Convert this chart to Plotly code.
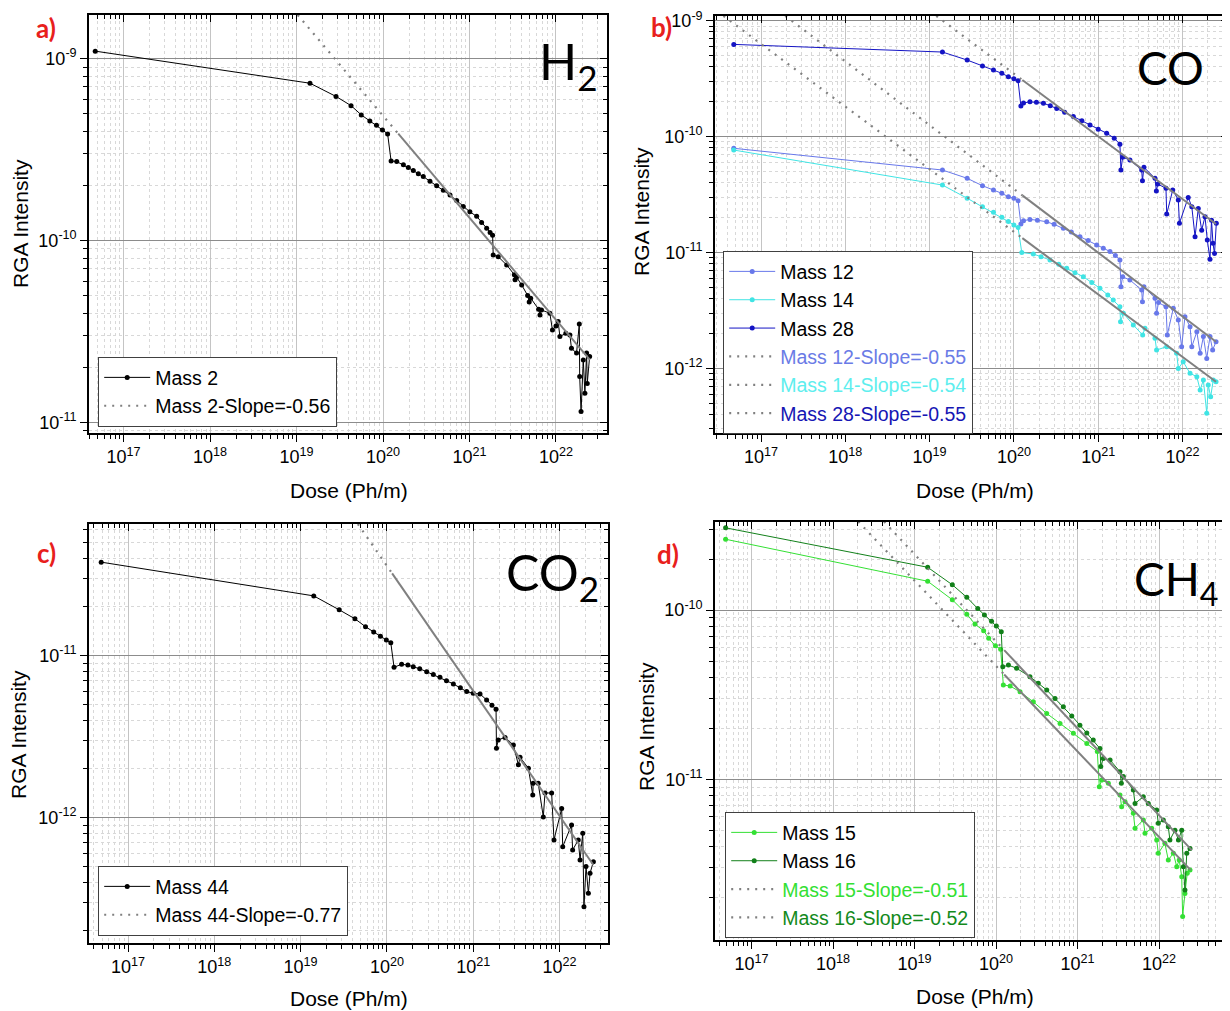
import plotly.graph_objects as go

# page body margin (8px) is compensated: figure drawn at 1222x1003, coords shifted by 8px
W, H = 1230, 1011
OX, OY = 8, 8
FW, FH = W - OX, H - OY

# ---------------- data ----------------
# Panel a) H2 : Mass 2
h2_dose = [4.7e16, 1.43e19, 2.86e19, 4.27e19, 5.6e19, 7.04e19, 8.4e19, 9.85e19, 1.13e20,
           1.24e20, 1.44e20, 1.72e20, 1.96e20, 2.24e20, 2.56e20, 2.92e20, 3.49e20, 4.17e20,
           4.98e20, 5.95e20, 7.11e20, 8.48e20, 1.01e21, 1.21e21, 1.38e21, 1.58e21, 1.73e21,
           1.85e21, 1.88e21, 2.15e21, 2.69e21, 3.3e21, 3.36e21, 3.5e21, 4.01e21, 4.7e21,
           4.9e21, 5.1e21, 6.3e21, 6.53e21, 6.8e21, 8.5e21, 9.1e21, 1.0e22, 1.06e22, 1.11e22,
           1.3e22, 1.45e22, 1.51e22, 1.73e22, 1.86e22, 1.88e22, 1.95e22, 2.07e22, 2.16e22,
           2.26e22, 2.3e22, 2.45e22]
h2_mass2 = [1.10e-9, 7.33e-10, 6.2e-10, 5.52e-10, 4.91e-10, 4.55e-10, 4.31e-10, 4.06e-10, 3.86e-10,
            2.74e-10, 2.72e-10, 2.61e-10, 2.52e-10, 2.43e-10, 2.33e-10, 2.25e-10, 2.12e-10, 2.0e-10,
            1.89e-10, 1.78e-10, 1.66e-10, 1.54e-10, 1.44e-10, 1.36e-10, 1.26e-10, 1.17e-10, 1.11e-10,
            1.07e-10, 8.34e-11, 8.16e-11, 7.35e-11, 6.5e-11, 6.1e-11, 6.3e-11, 5.71e-11, 5.0e-11,
            4.6e-11, 4.83e-11, 4.2e-11, 3.9e-11, 4.16e-11, 3.99e-11, 3.23e-11, 3.4e-11, 3.59e-11, 2.97e-11,
            3.1e-11, 3.03e-11, 2.56e-11, 2.41e-11, 3.48e-11, 1.79e-11, 1.15e-11, 2.21e-11, 1.45e-11,
            2.41e-11, 1.64e-11, 2.31e-11]
h2_fit_dose = [1.03e19, 1.5e20, 2.47e22]
h2_fit_int = [1.74e-9, 3.87e-10, 2.21e-11]

# Panel b) CO : Mass 12, 14, 28
co_dose28 = [4.75e16, 1.42e19, 2.79e19, 4.24e19, 5.72e19, 7.2e19, 8.6e19, 1.0e20, 1.12e20,
             1.21e20, 1.3e20, 1.55e20, 1.85e20, 2.24e20, 2.7e20, 3.22e20, 4.0e20, 5.07e20,
             6.4e20, 8.0e20, 1.0e21, 1.26e21, 1.55e21, 1.81e21, 1.86e21, 1.95e21, 2.38e21,
             3.28e21, 3.35e21, 3.49e21, 4.72e21, 4.9e21, 5.1e21, 6.37e21, 6.5e21, 7.66e21,
             8.92e21, 9.2e21, 1.17e22, 1.29e22, 1.41e22, 1.54e22, 1.69e22, 1.85e22, 1.97e22,
             2.12e22, 2.21e22, 2.3e22, 2.4e22, 2.52e22]
co_mass28 = [6.25e-10, 5.37e-10, 4.58e-10, 4.06e-10, 3.76e-10, 3.52e-10, 3.29e-10, 3.16e-10, 3.03e-10,
             1.84e-10, 1.95e-10, 2.0e-10, 1.98e-10, 1.94e-10, 1.85e-10, 1.75e-10, 1.62e-10, 1.49e-10,
             1.37e-10, 1.26e-10, 1.16e-10, 1.07e-10, 9.7e-11, 8.59e-11, 5.15e-11, 6.64e-11, 6.29e-11,
             5.15e-11, 4.17e-11, 5.43e-11, 4.37e-11, 3.4e-11, 3.9e-11, 3.58e-11, 2.15e-11, 3.46e-11,
             2.84e-11, 1.79e-11, 2.99e-11, 2.48e-11, 1.37e-11, 2.40e-11, 1.56e-11, 2.04e-11, 1.28e-11,
             8.73e-12, 1.9e-11, 1.2e-11, 9.8e-12, 1.79e-11]
co_dose12 = [4.75e16, 1.42e19, 2.79e19, 4.24e19, 5.72e19, 7.2e19, 8.6e19, 1.0e20, 1.12e20,
             1.21e20, 1.3e20, 1.55e20, 1.9e20, 2.45e20, 3.0e20, 3.86e20, 4.8e20, 6.08e20,
             7.6e20, 9.6e20, 1.15e21, 1.38e21, 1.6e21, 1.81e21, 1.86e21, 1.95e21, 2.38e21,
             3.28e21, 3.35e21, 3.49e21, 4.72e21, 4.93e21, 5.2e21, 6.37e21, 6.6e21, 7.78e21,
             8.92e21, 9.77e21, 1.07e22, 1.23e22, 1.29e22, 1.48e22, 1.62e22, 1.77e22, 1.94e22,
             2.12e22, 2.28e22, 2.5e22]
co_mass12 = [7.93e-11, 5.15e-11, 4.37e-11, 3.77e-11, 3.46e-11, 3.24e-11, 3.03e-11, 2.94e-11, 2.80e-11,
             1.76e-11, 1.88e-11, 1.93e-11, 1.9e-11, 1.84e-11, 1.75e-11, 1.62e-11, 1.5e-11, 1.37e-11,
             1.27e-11, 1.16e-11, 1.09e-11, 1.02e-11, 9.4e-12, 8.61e-12, 5.07e-12, 6.18e-12, 5.79e-12,
             4.75e-12, 3.76e-12, 5.07e-12, 4.03e-12, 2.99e-12, 3.7e-12, 3.40e-12, 1.94e-12, 3.30e-12,
             2.62e-12, 1.54e-12, 2.79e-12, 2.29e-12, 1.54e-12, 2.07e-12, 1.35e-12, 1.88e-12, 1.22e-12,
             1.88e-12, 1.44e-12, 1.70e-12]
co_dose14 = [4.75e16, 1.42e19, 2.79e19, 4.24e19, 5.72e19, 7.2e19, 8.6e19, 1.0e20, 1.12e20,
             1.24e20, 1.7e20, 2.1e20, 2.68e20, 3.4e20, 4.23e20, 5.3e20, 6.65e20, 8.4e20,
             1.05e21, 1.3e21, 1.51e21, 1.81e21, 1.84e21, 1.99e21, 2.61e21, 3.37e21, 3.59e21,
             4.72e21, 4.93e21, 6.49e21, 8.53e21, 8.92e21, 1.02e22, 1.23e22, 1.48e22, 1.62e22,
             1.77e22, 1.94e22, 2.02e22, 2.16e22, 2.32e22, 2.5e22]
co_mass14 = [7.66e-11, 3.82e-11, 2.94e-11, 2.48e-11, 2.22e-11, 2.01e-11, 1.85e-11, 1.73e-11, 1.64e-11,
             1.0e-11, 9.7e-12, 9.2e-12, 8.62e-12, 7.9e-12, 7.31e-12, 6.7e-12, 6.18e-12, 5.5e-12,
             4.91e-12, 4.3e-12, 3.89e-12, 3.40e-12, 2.53e-12, 2.99e-12, 2.37e-12, 1.94e-12, 2.22e-12,
             1.82e-12, 1.44e-12, 1.54e-12, 1.35e-12, 1.0e-12, 1.14e-12, 9.07e-13, 8.48e-13, 6.51e-13,
             7.94e-13, 4.1e-13, 7.19e-13, 5.7e-13, 7.94e-13, 7.67e-13]
co_fit_dose28 = [1.2e19, 1.26e20, 2.5e22]
co_fit_int28 = [1.1e-9, 3.08e-10, 1.76e-11]
co_fit_dose12 = [1.94e17, 1.26e20, 2.5e22]
co_fit_int12 = [1.1e-9, 3.11e-11, 1.7e-12]
co_fit_dose14 = [3.58e16, 1.26e20, 2.5e22]
co_fit_int14 = [1.1e-9, 1.33e-11, 7.67e-13]

# Panel c) CO2 : Mass 44
co2_dose = [4.89e16, 1.42e19, 2.8e19, 4.26e19, 5.65e19, 7.03e19, 8.41e19, 9.85e19, 1.11e20,
            1.21e20, 1.48e20, 1.75e20, 2.02e20, 2.4e20, 2.89e20, 3.45e20, 4.12e20, 4.9e20,
            5.89e20, 7.1e20, 8.41e20, 1.0e21, 1.2e21, 1.43e21, 1.65e21, 1.84e21, 1.86e21,
            1.95e21, 2.34e21, 2.92e21, 3.34e21, 3.49e21, 4.36e21, 4.9e21, 4.95e21, 5.67e21,
            6.49e21, 6.79e21, 8.11e21, 8.63e21, 1.06e22, 1.09e22, 1.38e22, 1.42e22, 1.65e22,
            1.73e22, 1.86e22, 1.92e22, 2.03e22, 2.16e22, 2.26e22, 2.47e22]
co2_mass44 = [3.78e-11, 2.34e-11, 1.92e-11, 1.69e-11, 1.51e-11, 1.40e-11, 1.32e-11, 1.25e-11, 1.20e-11,
              8.48e-12, 8.85e-12, 8.75e-12, 8.55e-12, 8.3e-12, 7.96e-12, 7.65e-12, 7.36e-12, 7.0e-12,
              6.69e-12, 6.33e-12, 6.0e-12, 5.86e-12, 5.8e-12, 5.33e-12, 4.95e-12, 4.67e-12, 2.68e-12,
              3.02e-12, 3.13e-12, 2.81e-12, 2.12e-12, 2.36e-12, 2.02e-12, 1.38e-12, 1.63e-12, 1.63e-12,
              1.01e-12, 1.42e-12, 1.42e-12, 7.28e-13, 1.14e-12, 6.62e-13, 9.02e-13, 6.31e-13, 7.28e-13,
              5.48e-13, 8.02e-13, 2.82e-13, 4.99e-13, 3.41e-13, 4.54e-13, 5.35e-13]
co2_fit_dose = [4.61e19, 1.15e20, 2.47e22]
co2_fit_int = [6.5e-11, 3.22e-11, 5.1e-13]

# Panel d) CH4 : Mass 15, 16
ch4_dose16 = [4.81e16, 1.45e19, 2.91e19, 4.38e19, 5.97e19, 7.21e19, 8.81e19, 1.01e20, 1.16e20,
              1.21e20, 1.42e20, 1.79e20, 2.61e20, 3.3e20, 4.19e20, 5.3e20, 6.7e20, 8.5e20,
              1.07e21, 1.3e21, 1.56e21, 1.89e21, 1.93e21, 2.07e21, 2.51e21, 3.32e21, 3.45e21,
              3.65e21, 4.84e21, 5.08e21, 6.42e21, 7.39e21, 9.37e21, 9.8e21, 1.13e22, 1.3e22,
              1.36e22, 1.57e22, 1.73e22, 1.9e22, 1.99e22, 2.08e22, 2.19e22, 2.4e22]
ch4_mass16 = [3.06e-10, 1.79e-10, 1.41e-10, 1.19e-10, 1.02e-10, 9.34e-11, 8.6e-11, 8.04e-11, 7.44e-11,
              4.62e-11, 4.73e-11, 4.53e-11, 4.04e-11, 3.7e-11, 3.37e-11, 3.0e-11, 2.68e-11, 2.37e-11,
              2.09e-11, 1.88e-11, 1.71e-11, 1.52e-11, 1.19e-11, 1.33e-11, 1.30e-11, 1.11e-11, 9.47e-12,
              1.04e-11, 8.65e-12, 7.21e-12, 7.89e-12, 7.21e-12, 6.59e-12, 5.5e-12, 5.75e-12, 5.25e-12,
              4.38e-12, 5.01e-12, 4.38e-12, 5.01e-12, 3.05e-12, 2.22e-12, 3.66e-12, 3.91e-12]
ch4_dose15 = [4.81e16, 1.45e19, 2.91e19, 4.38e19, 5.52e19, 7.05e19, 8.13e19, 9.84e19, 1.14e20,
              1.23e20, 1.49e20, 1.97e20, 2.87e20, 4.19e20, 6.1e20, 8.89e20, 1.3e21, 1.75e21,
              1.85e21, 1.98e21, 2.39e21, 3.32e21, 3.48e21, 3.83e21, 4.84e21, 5.08e21, 6.42e21,
              6.73e21, 8.13e21, 9.37e21, 9.8e21, 1.18e22, 1.3e22, 1.5e22, 1.65e22, 1.77e22,
              1.9e22, 1.95e22, 2.08e22, 2.22e22, 2.4e22]
ch4_mass15 = [2.62e-10, 1.48e-10, 1.15e-10, 9.46e-11, 8.26e-11, 7.55e-11, 6.81e-11, 6.15e-11, 5.86e-11,
              3.61e-11, 3.56e-11, 3.29e-11, 2.87e-11, 2.45e-11, 2.14e-11, 1.87e-11, 1.63e-11, 1.46e-11,
              9.04e-12, 9.9e-12, 9.47e-12, 8.07e-12, 6.88e-12, 7.38e-12, 6.3e-12, 5.14e-12, 5.75e-12,
              4.8e-12, 5.14e-12, 4.38e-12, 3.66e-12, 4.19e-12, 3.34e-12, 3.66e-12, 3.05e-12, 3.34e-12,
              2.66e-12, 1.55e-12, 2.12e-12, 2.79e-12, 2.91e-12]
ch4_fit_dose15 = [2.04e18, 1.26e20, 2.45e22]
ch4_fit_int15 = [3.33e-10, 4.16e-11, 2.91e-12]
ch4_fit_dose16 = [4.23e18, 1.26e20, 2.52e22]
ch4_fit_int16 = [3.33e-10, 5.8e-11, 3.82e-12]

# tick decades
x_decades = [17, 18, 19, 20, 21, 22]
y_decades_a = [-11, -10, -9]
y_decades_b = [-12, -11, -10, -9]
y_decades_c = [-12, -11]
y_decades_d = [-11, -10]

# ---------------- styling ----------------
FONT = "Liberation Sans, Arial, sans-serif"
BIG = "Lato, Carlito, sans-serif"
GRAY = "#808080"
C12, C14, C28 = "#6878ea", "#40e4e4", "#1414c4"
C15, C16 = "#34e034", "#12801a"


def fx(p):
    return (p - OX) / FW


def fy(p):
    return 1 - (p - OY) / FH


def minor_vals(decs):
    return [k * 10.0 ** d for d in decs for k in range(2, 10)]


def x_axes(dom, rng, anchor, overlay_anchor, main_name):
    major = [10.0 ** e for e in x_decades]
    labels = [f"10<sup>{e}</sup>" for e in x_decades]
    mv = minor_vals(range(16, 23))
    main = dict(domain=[fx(dom[0]), min(1.0, fx(dom[1]))], anchor=anchor, type="log",
                range=list(rng), automargin=False,
                showline=True, linecolor="black", linewidth=1.6, mirror=True,
                ticks="outside", ticklen=7, tickwidth=1.2, tickcolor="black",
                tickmode="array", tickvals=major, ticktext=labels,
                tickfont=dict(family=FONT, size=18, color="black"),
                showgrid=True, gridcolor="#c4c4c4", gridwidth=1, zeroline=False,
                minor=dict(tickmode="array", tickvals=mv, ticks="outside", ticklen=4,
                           tickwidth=1, tickcolor="black", showgrid=True,
                           gridcolor="#d8d8d8", griddash="dot", gridwidth=1))
    top = dict(overlaying=main_name, anchor=overlay_anchor, side="top", type="log", range=list(rng),
               automargin=False, showline=False, ticks="inside", ticklen=7, tickwidth=1.2,
               tickcolor="black", tickmode="array", tickvals=major, showticklabels=False,
               showgrid=False, zeroline=False,
               minor=dict(tickmode="array", tickvals=mv, ticks="inside", ticklen=4,
                          tickwidth=1, tickcolor="black", showgrid=False))
    return main, top


def y_axes(dom, rng, decs, anchor, overlay_anchor, main_name):
    major = [10.0 ** e for e in decs]
    labels = [f"10<sup>{e}</sup>" for e in decs]
    mv = minor_vals(range(-14, -8))
    main = dict(domain=[fy(dom[1]), min(1.0, fy(dom[0]))], anchor=anchor, type="log",
                range=list(rng), automargin=False,
                showline=True, linecolor="black", linewidth=1.6, mirror=True,
                ticks="outside", ticklen=7, tickwidth=1.2, tickcolor="black",
                tickmode="array", tickvals=major, ticktext=labels,
                tickfont=dict(family=FONT, size=18, color="black"),
                showgrid=True, gridcolor="#8c8c8c", gridwidth=1.2, zeroline=False,
                minor=dict(tickmode="array", tickvals=mv, ticks="outside", ticklen=4,
                           tickwidth=1, tickcolor="black", showgrid=True,
                           gridcolor="#d8d8d8", griddash="dot", gridwidth=1))
    right = dict(overlaying=main_name, anchor=overlay_anchor, side="right", type="log",
                 range=list(rng), automargin=False, showline=False, ticks="inside", ticklen=7,
                 tickwidth=1.2, tickcolor="black", tickmode="array", tickvals=major,
                 showticklabels=False, showgrid=False, zeroline=False,
                 minor=dict(tickmode="array", tickvals=mv, ticks="inside", ticklen=4,
                            tickwidth=1, tickcolor="black", showgrid=False))
    return main, right


def data_trace(x, y, name, color, xa, ya, leg):
    return go.Scatter(x=x, y=y, name=name, mode="lines+markers",
                      line=dict(color=color, width=1),
                      marker=dict(color=color, size=5, symbol="circle"),
                      xaxis=xa, yaxis=ya, legend=leg, hoverinfo="skip")


def fit_traces(x, y, name, xa, ya, leg):
    dotted = go.Scatter(x=x[:2], y=y[:2], name=name, mode="lines",
                        line=dict(color=GRAY, width=2.2, dash="2px,6px"),
                        xaxis=xa, yaxis=ya, legend=leg, hoverinfo="skip")
    solid = go.Scatter(x=x[1:], y=y[1:], mode="lines", showlegend=False,
                       line=dict(color=GRAY, width=2),
                       xaxis=xa, yaxis=ya, legend=leg, hoverinfo="skip")
    return [dotted, solid]


def colored(text, color):
    return f"<span style='color:{color}'>{text}</span>"


fig = go.Figure()

# panel a
fig.add_trace(data_trace(h2_dose, h2_mass2, "Mass 2", "black", "x", "y", "legend"))
fig.add_traces(fit_traces(h2_fit_dose, h2_fit_int, "Mass 2-Slope=-0.56", "x", "y", "legend"))

# panel b
fig.add_trace(data_trace(co_dose12, co_mass12, "Mass 12", C12, "x2", "y2", "legend2"))
fig.add_trace(data_trace(co_dose14, co_mass14, "Mass 14", C14, "x2", "y2", "legend2"))
fig.add_trace(data_trace(co_dose28, co_mass28, "Mass 28", C28, "x2", "y2", "legend2"))
fig.add_traces(fit_traces(co_fit_dose12, co_fit_int12, colored("Mass 12-Slope=-0.55", "#6a7be6"), "x2", "y2", "legend2"))
fig.add_traces(fit_traces(co_fit_dose14, co_fit_int14, colored("Mass 14-Slope=-0.54", "#5eeeee"), "x2", "y2", "legend2"))
fig.add_traces(fit_traces(co_fit_dose28, co_fit_int28, colored("Mass 28-Slope=-0.55", "#1616b4"), "x2", "y2", "legend2"))

# panel c
fig.add_trace(data_trace(co2_dose, co2_mass44, "Mass 44", "black", "x3", "y3", "legend3"))
fig.add_traces(fit_traces(co2_fit_dose, co2_fit_int, "Mass 44-Slope=-0.77", "x3", "y3", "legend3"))

# panel d
fig.add_trace(data_trace(ch4_dose15, ch4_mass15, "Mass 15", C15, "x4", "y4", "legend4"))
fig.add_trace(data_trace(ch4_dose16, ch4_mass16, "Mass 16", C16, "x4", "y4", "legend4"))
fig.add_traces(fit_traces(ch4_fit_dose15, ch4_fit_int15, colored("Mass 15-Slope=-0.51", "#33e033"), "x4", "y4", "legend4"))
fig.add_traces(fit_traces(ch4_fit_dose16, ch4_fit_int16, colored("Mass 16-Slope=-0.52", "#138a1c"), "x4", "y4", "legend4"))

# empty traces to register the mirror-tick overlay axes
for n in (5, 6, 7, 8):
    fig.add_trace(go.Scatter(x=[], y=[], xaxis=f"x{n}", yaxis=f"y{n}", showlegend=False,
                             hoverinfo="skip"))

panels = [
    # idx, x dom px, y dom px (top,bottom), x range (log10), y range (log10), y decades
    (1, (89, 607), (15, 433), (16.60, 22.59), (-11.057, -8.760), y_decades_a),
    (2, (715, 1228), (16, 432.7), (16.454, 22.54), (-12.555, -8.959), y_decades_b),
    (3, (89, 608), (524, 942.7), (16.548, 22.562), (-12.772, -10.187), y_decades_c),
    (4, (715, 1230), (521.7, 940), (16.552, 22.871), (-11.949, -9.478), y_decades_d),
]

layout_axes = {}
for i, xd, yd, xr, yr, decs in panels:
    xn = "x" if i == 1 else f"x{i}"
    yn = "y" if i == 1 else f"y{i}"
    on = i + 4
    xmain, xtop = x_axes(xd, xr, yn, f"y{on}", xn)
    ymain, yright = y_axes(yd, yr, decs, xn, f"x{on}", yn)
    layout_axes["xaxis" if i == 1 else f"xaxis{i}"] = xmain
    layout_axes["yaxis" if i == 1 else f"yaxis{i}"] = ymain
    layout_axes[f"xaxis{on}"] = xtop
    layout_axes[f"yaxis{on}"] = yright

fig.update_layout(**layout_axes)


def legend_box(xp, yp):
    return dict(x=fx(xp), y=fy(yp), xanchor="left", yanchor="top", xref="paper", yref="paper",
                bgcolor="white", bordercolor="#404040", borderwidth=1.2,
                font=dict(family=FONT, size=19.5, color="black"), itemwidth=46,
                tracegroupgap=0, traceorder="normal")


fig.update_layout(
    legend=legend_box(98, 357),
    legend2=legend_box(723, 251),
    legend3=legend_box(98, 866),
    legend4=legend_box(725, 812),
)

annotations = []
# panel letters
for txt, xp, yp in [("a)", 46, 10), ("b)", 661, 9), ("c)", 46, 535), ("d)", 668, 536)]:
    annotations.append(dict(text=f"<b>{txt}</b>", x=fx(xp), y=fy(yp), xref="paper", yref="paper",
                            showarrow=False, xanchor="center", yanchor="top",
                            font=dict(family=BIG, size=26, color="#e8201c")))
# species labels
for txt, xp, yp, sz in [("H<sub>2</sub>", 568, 64, 50), ("CO", 1170, 67, 46),
                        ("CO<sub>2</sub>", 552, 575, 50), ("CH<sub>4</sub>", 1176, 582, 46)]:
    annotations.append(dict(text=txt, x=fx(xp), y=fy(yp), xref="paper", yref="paper",
                            showarrow=False, xanchor="center", yanchor="middle",
                            font=dict(family=BIG, size=sz, color="black")))
# axis titles
for xp, yp in [(349, 490), (975, 490), (349, 998), (975, 996)]:
    annotations.append(dict(text="Dose (Ph/m)", x=fx(xp), y=fy(yp), xref="paper", yref="paper",
                            showarrow=False, xanchor="center", yanchor="middle",
                            font=dict(family=FONT, size=21, color="black")))
for xp, yp in [(20, 224), (641, 212), (18, 735), (646, 727)]:
    annotations.append(dict(text="RGA Intensity", x=fx(xp), y=fy(yp), xref="paper", yref="paper",
                            showarrow=False, xanchor="center", yanchor="middle", textangle=-90,
                            font=dict(family=FONT, size=21, color="black")))

fig.update_layout(
    annotations=annotations,
    width=FW, height=FH,
    margin=dict(l=0, r=0, t=0, b=0, pad=0, autoexpand=False),
    paper_bgcolor="white", plot_bgcolor="white",
    font=dict(family=FONT, color="black"),
    showlegend=True,
)

fig.write_html("out.html")
